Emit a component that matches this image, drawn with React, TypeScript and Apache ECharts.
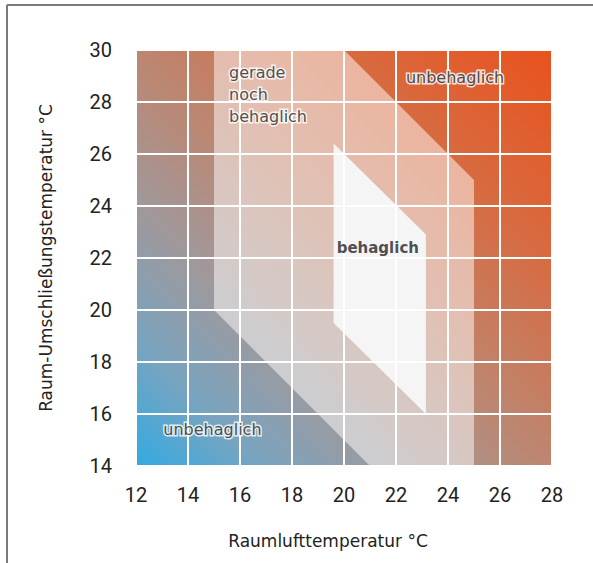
import React, { useEffect, useRef } from "react";
import * as echarts from "echarts";

// Axis ranges / ticks
const xMin = 12, xMax = 28, xStep = 2;
const yMin = 14, yMax = 30, yStep = 2;

// "gerade noch behaglich" zone (Raumluft, Umschließung)
const outerZoneX = [15, 20, 25, 25, 21, 15];
const outerZoneY = [30, 30, 25, 14, 14, 20];

// "behaglich" zone
const comfortZoneX = [19.6, 23.15, 23.15, 19.6];
const comfortZoneY = [26.4, 22.9, 16.0, 19.5];

// Zone labels
const labelTexts = ["gerade\nnoch\nbehaglich", "unbehaglich", "behaglich", "unbehaglich"];
const labelX = [15.58, 24.27, 21.3, 14.94];
const labelY = [29.54, 28.96, 22.38, 15.42];

const xName = "Raumlufttemperatur °C";
const yName = "Raum-Umschließungstemperatur °C";

function polygonSeries(xs: number[], ys: number[], fill: string, z: number) {
  const pts = xs.map((x, i) => [x, ys[i]]);
  return {
    type: "custom",
    z,
    silent: true,
    data: pts,
    encode: { x: 0, y: 1 },
    renderItem: (params: any, api: any) => {
      if (params.dataIndex !== 0) return null;
      const points = pts.map((p) => api.coord(p));
      return { type: "polygon", shape: { points }, style: { fill } };
    },
  };
}

export default function App() {
  const ref = useRef<HTMLDivElement>(null);
  useEffect(() => {
    if (!ref.current) return;
    const chart = echarts.init(ref.current, null, { renderer: "svg" });
    const labelFont = "DejaVu Sans";
    const option: any = {
      animation: false,
      backgroundColor: "#ffffff",
      grid: {
        left: 136,
        right: 41,
        top: 50,
        bottom: 97,
        show: true,
        borderWidth: 0,
        backgroundColor: new echarts.graphic.LinearGradient(0, 1, 1, 0, [
          { offset: 0, color: "#33aae2" },
          { offset: 0.15, color: "#78a4c0" },
          { offset: 0.32, color: "#a1989a" },
          { offset: 0.5, color: "#bd8670" },
          { offset: 0.75, color: "#d86a40" },
          { offset: 1, color: "#e9521c" },
        ]),
      },
      graphic: [
        { type: "line", shape: { x1: 7, y1: 5, x2: 593, y2: 5 }, style: { stroke: "#7a7a7a", lineWidth: 2 } },
        { type: "line", shape: { x1: 7, y1: 5, x2: 7, y2: 563 }, style: { stroke: "#7a7a7a", lineWidth: 2 } },
      ],
      xAxis: {
        type: "value",
        min: xMin,
        max: xMax,
        interval: xStep,
        z: 3,
        name: xName,
        nameLocation: "middle",
        nameGap: 66,
        nameTextStyle: { fontFamily: labelFont, fontSize: 17, color: "#222", padding: [0, 32, 0, 0] },
        axisLine: { show: false },
        axisTick: { show: false },
        axisLabel: { fontFamily: "Roboto", fontSize: 20, color: "#222", margin: 19 },
        splitLine: { show: true, lineStyle: { color: "#ffffff", width: 2 } },
      },
      yAxis: {
        type: "value",
        min: yMin,
        max: yMax,
        interval: yStep,
        z: 3,
        name: yName,
        nameLocation: "middle",
        nameGap: 82,
        nameTextStyle: { fontFamily: labelFont, fontSize: 17, color: "#222" },
        axisLine: { show: false },
        axisTick: { show: false },
        axisLabel: { fontFamily: "Roboto", fontSize: 20, color: "#222", margin: 24 },
        splitLine: { show: true, lineStyle: { color: "#ffffff", width: 2 } },
      },
      series: [
        polygonSeries(outerZoneX, outerZoneY, "rgba(255,255,255,0.5)", 1),
        polygonSeries(comfortZoneX, comfortZoneY, "#f5f5f5", 2),
        {
          type: "scatter",
          z: 5,
          silent: true,
          symbolSize: 0,
          data: labelTexts.map((t, i) => ({
            value: [labelX[i], labelY[i]],
            label:
              i === 0
                ? { position: [0, 0], align: "left", verticalAlign: "top", lineHeight: 22 }
                : i === 2
                ? { position: "inside", fontWeight: "bold", fontSize: 15, textBorderWidth: 0 }
                : { position: "inside" },
          })),
          label: {
            show: true,
            formatter: (p: any) => labelTexts[p.dataIndex],
            fontFamily: labelFont,
            fontSize: 16,
            color: "#222",
            textBorderColor: "#ffffff",
            textBorderWidth: 3,
          },
        },
      ],
    };
    chart.setOption(option);
    return () => chart.dispose();
  }, []);
  return <div ref={ref} style={{ width: 593, height: 563, position: "absolute", left: 0, top: 0 }} />;
}
